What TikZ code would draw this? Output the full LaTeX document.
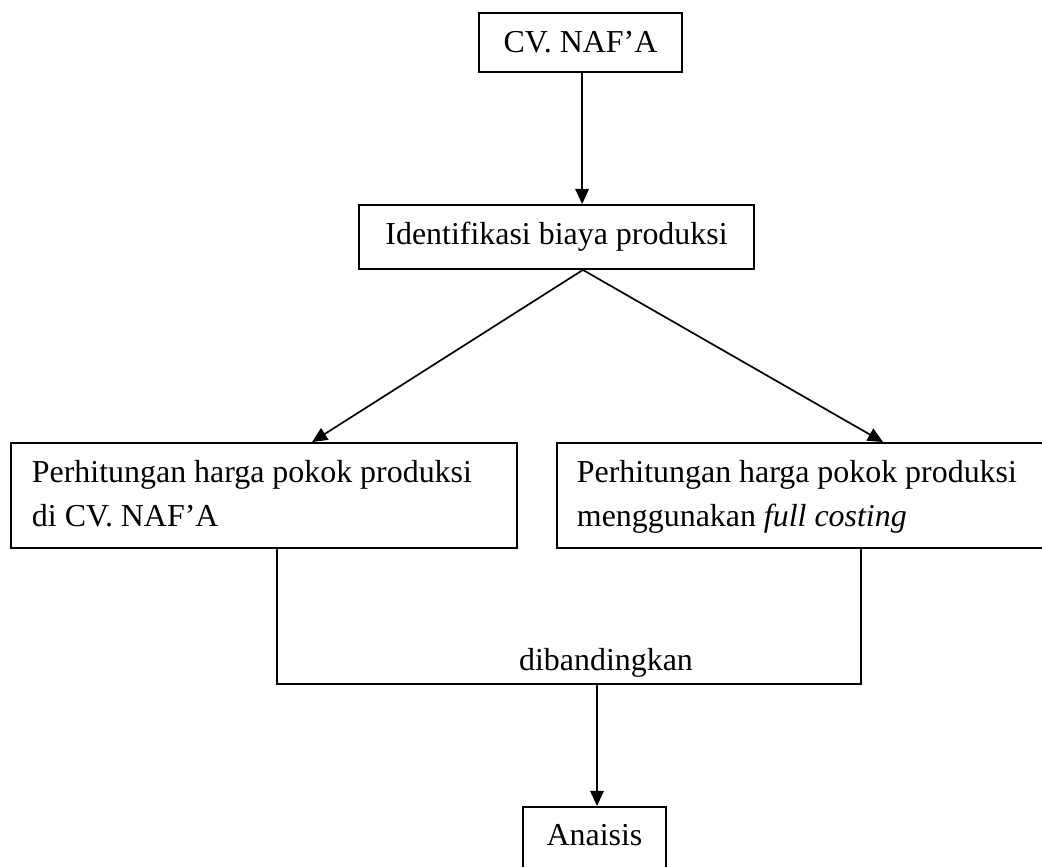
\documentclass[tikz,border=0pt]{standalone}
\usepackage{fontspec}
\setmainfont{Liberation Serif}
\usetikzlibrary{arrows.meta,positioning}

\begin{document}
\begin{tikzpicture}[x=0.025cm, y=-0.025cm,
  box/.style={draw, line width=1.3pt, inner sep=0pt, font=\fontsize{22.7}{31.3}\selectfont},
  textbox/.style={box, align=left, minimum height=2.625cm,
    execute at begin node={\spaceskip=0pt\xspaceskip=0pt}},
  arr/.style={line width=1.2pt, -{Triangle[length=0.38cm, width=0.34cm]}},
  link/.style={line width=1.2pt}]
\useasboundingbox (0,0) rectangle (1042,867);
\node[box, minimum width=5.075cm, minimum height=1.475cm] (cv) at (580.5,42.5) {CV. NAF’A};
\node[box, minimum width=9.875cm, minimum height=1.6cm] (ident) at (556.5,237) {Identifikasi biaya produksi};
\node[textbox, text width=11.6cm, inner xsep=0.525cm] (kiri) at (264,495.5)
  {\strut Perhitungan harga pokok produksi\\di CV. NAF’A\strut};
\node[textbox, text width=11.325cm, inner xsep=0.5cm] (kanan) at (803.5,495.5)
  {\strut Perhitungan harga pokok produksi\\menggunakan \textit{full costing}\strut};
\node[box, anchor=north, minimum width=3.575cm, inner ysep=0.45cm, text height=0.525cm, text depth=0.5cm] (hasil) at (594.5,806) {Anaisis};
\node[anchor=base, font=\fontsize{22.7}{31.3}\selectfont] (banding) at (606,670) {dibandingkan};
% arrows
\draw[arr] ([xshift=0.04cm]cv.south) -- ([xshift=0.04cm]cv.south |- ident.north);
\coordinate (fork) at ([xshift=0.66cm]ident.south);
\draw[arr] (fork) -- ([xshift=1.2cm]kiri.north);
\draw[arr] (fork) -- ([xshift=1.9875cm]kanan.north);
% comparison
\coordinate (joinL) at (277,684);
\coordinate (joinR) at (861,684);
\coordinate (mid) at (597,684);
\draw[link] ([xshift=0.325cm]kiri.south) -- (joinL) -- (joinR) -- ([xshift=1.4375cm]kanan.south);
\draw[arr] (mid) -- (mid |- hasil.north);
\end{tikzpicture}
\end{document}
